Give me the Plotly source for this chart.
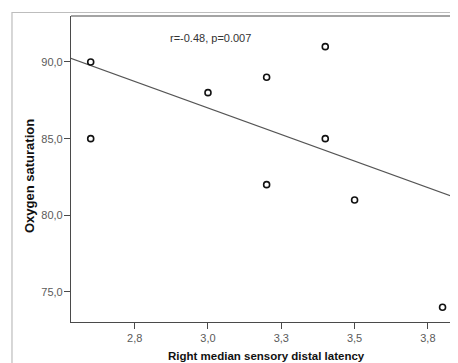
import plotly.graph_objects as go

# Data
latency = [2.6, 2.6, 3.0, 3.2, 3.2, 3.4, 3.4, 3.5, 3.8]
oxygen = [90, 85, 88, 89, 82, 91, 85, 81, 74]
fit_x = [2.53, 3.86]
fit_y = [90.25, 81.05]
x_tickvals = [2.75, 3.0, 3.25, 3.5, 3.75]
x_ticktext = ["2,8", "3,0", "3,3", "3,5", "3,8"]
y_tickvals = [75, 80, 85, 90]
y_ticktext = ["75,0", "80,0", "85,0", "90,0"]
stat_text = "r=-0.48, p=0.007"
x_title = "Right median sensory distal latency"
y_title = "Oxygen saturation"

FONT = "Liberation Sans, Arial, sans-serif"
AX = "#4a4a4a"

fig = go.Figure()
fig.add_trace(go.Scatter(x=fit_x, y=fit_y, mode="lines",
                         line=dict(color="#555555", width=1.2),
                         hoverinfo="skip", showlegend=False))
fig.add_trace(go.Scatter(x=latency, y=oxygen, mode="markers",
                         marker=dict(symbol="circle-open", size=6,
                                     color="#111111", line=dict(width=1.6)),
                         showlegend=False))

fig.update_layout(
    width=450, height=355,
    margin=dict(l=63, r=0, t=8, b=41),
    paper_bgcolor="white", plot_bgcolor="white",
    font=dict(family=FONT, size=11, color="#555555"),
    xaxis=dict(range=[2.5328, 3.8527], tickvals=x_tickvals, ticktext=x_ticktext,
               showgrid=False, zeroline=False, showline=True, linecolor=AX, linewidth=1.2,
               ticks="outside", ticklen=6, tickcolor=AX, tickwidth=1.2,
               tickfont=dict(size=11, color="#5a5a5a")),
    yaxis=dict(range=[73.04, 93.0], tickvals=y_tickvals, ticktext=y_ticktext,
               showgrid=False, zeroline=False, showline=True, linecolor=AX, linewidth=1.2,
               ticks="outside", ticklen=6, tickcolor=AX, tickwidth=1.2,
               ticklabelstandoff=-1,
               tickfont=dict(size=11, color="#5a5a5a")),
    shapes=[
        dict(type="rect", xref="paper", yref="paper", x0=-0.1525, x1=1.3,
             y0=-0.3, y1=1.0114, line=dict(color="#bdbdbd", width=1.2),
             fillcolor="rgba(0,0,0,0)", layer="below"),
        dict(type="line", xref="paper", yref="paper", x0=0, x1=1, y0=1, y1=1,
             line=dict(color=AX, width=1.2)),
    ],
    annotations=[
        dict(text=stat_text, xref="paper", yref="paper", x=(168 - 71) / 387,
             y=1 - (38.3 - 16) / 306, xanchor="left", yanchor="middle",
             showarrow=False, font=dict(size=11, color="#333333")),
        dict(text="<b>" + x_title + "</b>", xref="paper", yref="paper",
             x=(266.7 - 71) / 387, y=(322 - 356) / 306, xanchor="center", yanchor="middle",
             showarrow=False, font=dict(size=11.5, color="#111111")),
        dict(text="<b>" + y_title + "</b>", xref="paper", yref="paper",
             x=(29 - 71) / 387, y=1 - (176 - 16) / 306, xanchor="center", yanchor="middle",
             textangle=-90, showarrow=False, font=dict(size=13, color="#111111")),
    ],
)

fig.write_html("out.html")
